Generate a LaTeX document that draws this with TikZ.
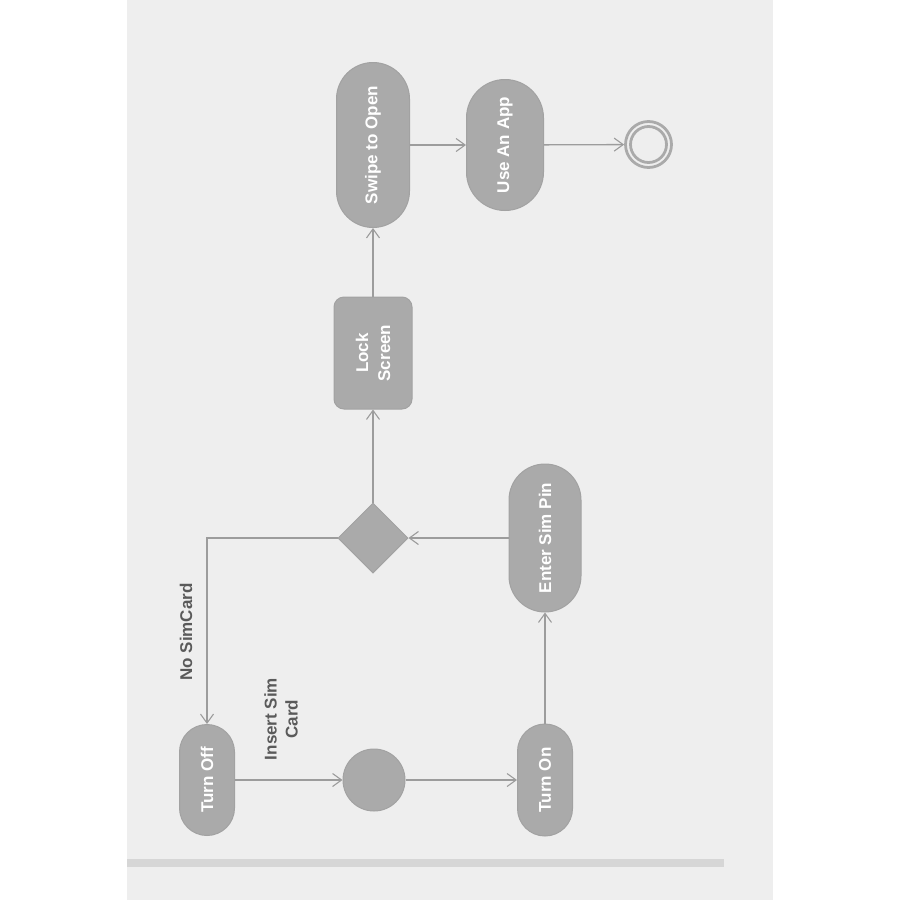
\documentclass[tikz,border=0pt]{standalone}
\usepackage{fontspec}
\setmainfont{Liberation Sans}
\usetikzlibrary{shapes.geometric,arrows.meta}
\definecolor{bg}{HTML}{EEEEEE}
\definecolor{nodefill}{HTML}{AAAAAA}
\definecolor{nodeline}{HTML}{A2A2A2}
\definecolor{edge}{HTML}{9C9C9C}
\definecolor{lbl}{HTML}{5A5A5A}
\definecolor{bar}{HTML}{D6D6D6}
\tikzset{
  pill/.style={draw=nodeline, fill=nodefill, line width=1pt, rotate=90,
    text=white, font=\fontsize{17}{21}\selectfont\bfseries, inner sep=0pt,
    align=center},
  lockbox/.style={draw=nodeline, fill=nodefill, line width=1pt, rotate=90,
    rounded corners=10pt, text=white, font=\fontsize{17}{22}\selectfont\bfseries,
    inner sep=0pt, align=center, minimum width=112pt, minimum height=78pt},
  decision/.style={diamond, draw=nodeline, fill=nodefill, line width=1pt,
    minimum size=70pt, inner sep=0pt, aspect=1},
  startdot/.style={circle, draw=nodeline, fill=nodefill, line width=1pt,
    minimum size=62pt, inner sep=0pt},
  flow/.style={draw=edge, line width=1.3pt,
    -{Straight Barb[length=9pt,width=13pt,line width=1.1pt]}},
  elabel/.style={text=lbl, rotate=90, font=\fontsize{17}{21}\selectfont\bfseries,
    align=center, inner sep=0pt},
}
\begin{document}
\begin{tikzpicture}[x=1pt,y=-1pt]
\useasboundingbox (0,0) rectangle (900,900);
\fill[white] (0,0) rectangle (900,900);
\fill[bg] (127,0) rectangle (773,900);
\fill[bar] (127,859) rectangle (724,867);

\node[pill, minimum width=111pt, minimum height=55pt, rounded corners=27.5pt] (toff) at (207,780) {Turn Off};
\node[startdot] (start) at (374,780) {};
\node[pill, minimum width=112pt, minimum height=55pt, rounded corners=27.5pt] (ton) at (545,780) {Turn On};
\node[pill, minimum width=148pt, minimum height=72pt, rounded corners=36pt] (pin) at (545,538) {Enter Sim Pin};
\node[decision] (dec) at (373,538) {};
\node[lockbox] (lock) at (373,353) {Lock\\Screen};
\node[pill, minimum width=165pt, minimum height=73pt, rounded corners=36.5pt] (swipe) at (373,145) {Swipe to Open};
\node[pill, minimum width=131pt, minimum height=77pt, rounded corners=38.5pt] (app) at (505,145) {Use An App};
\node[circle, draw=nodefill, line width=2.8pt, minimum size=46pt, inner sep=0pt] (final) at (648.5,144.5) {};
\node[circle, draw=nodefill, line width=2.8pt, minimum size=36pt, inner sep=0pt] (finalin) at (648.5,144.5) {};

\draw[flow] (toff) -- (start);
\draw[flow] (start) -- (ton);
\draw[flow] (ton) -- (pin);
\draw[flow] (pin) -- (dec);
\draw[flow] (dec) -- (lock);
\draw[flow] (dec) -| (toff);
\draw[flow] (lock) -- (swipe);
\draw[flow] (swipe) -- (app);
\draw[flow] (app) -- (final);

\node[elabel] (lnosim) at (186,632) {No SimCard};
\node[elabel] (lins) at (281,719) {Insert Sim\\Card};
\end{tikzpicture}
\end{document}
